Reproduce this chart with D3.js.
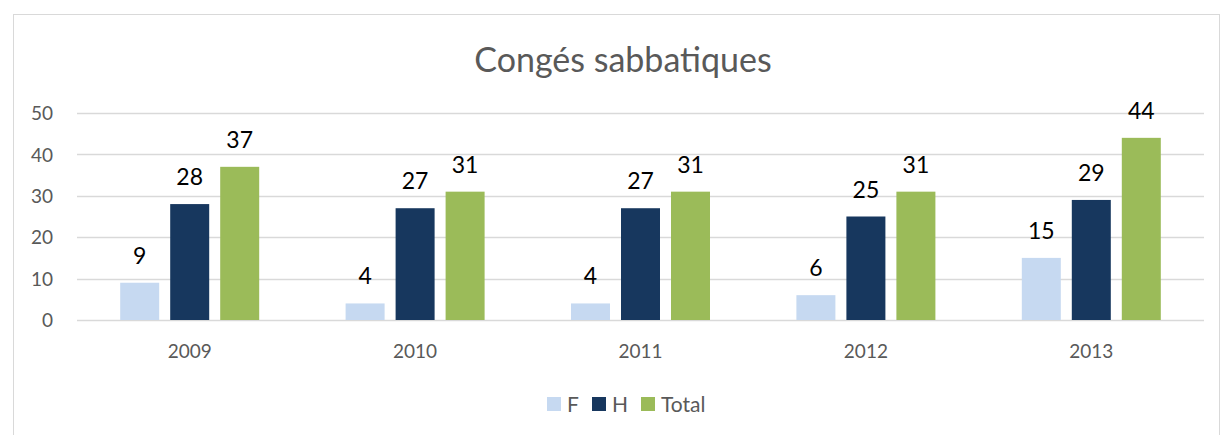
<!DOCTYPE html>
<html>
<head>
<meta charset="utf-8">
<script src="https://cdn.jsdelivr.net/npm/d3@7"></script>
<style>
  body { margin: 0; background: #fff; }
  svg { display: block; font-family: Lato, "Open Sans", sans-serif; }
</style>
</head>
<body>
<svg id="chart" width="1221" height="435"></svg>
<script>
// chart data
const years = ["2009", "2010", "2011", "2012", "2013"];
const seriesNames = ["F", "H", "Total"];
const valuesF = [9, 4, 4, 6, 15];
const valuesH = [28, 27, 27, 25, 29];
const valuesTotal = [37, 31, 31, 31, 44];
const yTicks = [0, 10, 20, 30, 40, 50];
const colors = ["#C6D9F1", "#17375E", "#9BBB59"];

const svg = d3.select("#chart");

// frame
svg.append("rect")
  .attr("x", 13.5).attr("y", 14.5)
  .attr("width", 1206).attr("height", 440)
  .attr("fill", "none").attr("stroke", "#D9D9D9");

// title
svg.append("text")
  .attr("x", 623).attr("y", 72)
  .attr("text-anchor", "middle")
  .attr("font-size", 34)
  .attr("fill", "#595959")
  .text("Congés sabbatiques");

// scales
const plotLeft = 77, plotRight = 1204, plotTop = 113, plotBottom = 320;
const groupWidth = 139;
const x0 = d3.scaleBand().domain(years).range([plotLeft, plotRight]);
const x1 = d3.scaleBand().domain(seriesNames).range([0, groupWidth]).paddingInner(0.22);
const y = d3.scaleLinear().domain([0, 50]).range([plotBottom, plotTop]);

// gridlines
svg.append("g")
  .selectAll("line")
  .data(yTicks)
  .enter()
  .append("line")
  .attr("x1", plotLeft).attr("x2", plotRight)
  .attr("y1", (d) => Math.round(y(d)) + 0.5)
  .attr("y2", (d) => Math.round(y(d)) + 0.5)
  .attr("stroke", "#D9D9D9")
  .attr("stroke-width", 1.5);

// y axis labels
const yAxis = d3.axisLeft(y).tickValues(yTicks).tickSize(0).tickPadding(0);
const gy = svg.append("g")
  .attr("transform", `translate(${53}, 0)`)
  .call(yAxis);
gy.select(".domain").remove();
gy.selectAll("text")
  .attr("font-size", 19)
  .attr("font-family", "Lato, sans-serif")
  .attr("fill", "#595959")
  .attr("dy", "0.35em");

// x axis labels
const xAxis = d3.axisBottom(x0).tickSize(0).tickPadding(0);
const gx = svg.append("g")
  .attr("transform", `translate(0, ${358})`)
  .call(xAxis);
gx.select(".domain").remove();
gx.selectAll("text")
  .attr("font-size", 19)
  .attr("font-family", "Lato, sans-serif")
  .attr("fill", "#595959")
  .attr("dy", 0);

// bars
const rows = years.map((yr, i) => ({
  year: yr,
  vals: [valuesF[i], valuesH[i], valuesTotal[i]],
}));

const groups = svg.selectAll(".year")
  .data(rows)
  .enter()
  .append("g")
  .attr("class", "year")
  .attr("transform", (d) => `translate(${x0(d.year) + x0.bandwidth() / 2 - groupWidth / 2}, 0)`);

groups.selectAll("rect")
  .data((d) => d.vals.map((v, j) => ({ name: seriesNames[j], value: v })))
  .enter()
  .append("rect")
  .attr("x", (d) => x1(d.name))
  .attr("y", (d) => y(d.value))
  .attr("width", x1.bandwidth())
  .attr("height", (d) => y(0) - y(d.value))
  .attr("fill", (d, j) => colors[j]);

// data labels
groups.selectAll(".lbl")
  .data((d) => d.vals.map((v, j) => ({ name: seriesNames[j], value: v })))
  .enter()
  .append("text")
  .attr("class", "lbl")
  .attr("x", (d) => x1(d.name) + x1.bandwidth() / 2)
  .attr("y", (d) => y(d.value) - 19)
  .attr("text-anchor", "middle")
  .attr("font-size", 23)
  .attr("fill", "#000")
  .text((d) => d.value);

// legend
const legendX = [547, 592, 641];
const legend = svg.selectAll(".leg")
  .data(seriesNames)
  .enter()
  .append("g")
  .attr("class", "leg")
  .attr("transform", (d, i) => `translate(${legendX[i]}, ${397})`);
legend.append("rect")
  .attr("width", 14).attr("height", 14)
  .attr("fill", (d, i) => colors[i]);
legend.append("text")
  .attr("x", 20).attr("y", 15)
  .attr("font-size", 21)
  .attr("fill", "#595959")
  .text((d) => d);
</script>
</body>
</html>
